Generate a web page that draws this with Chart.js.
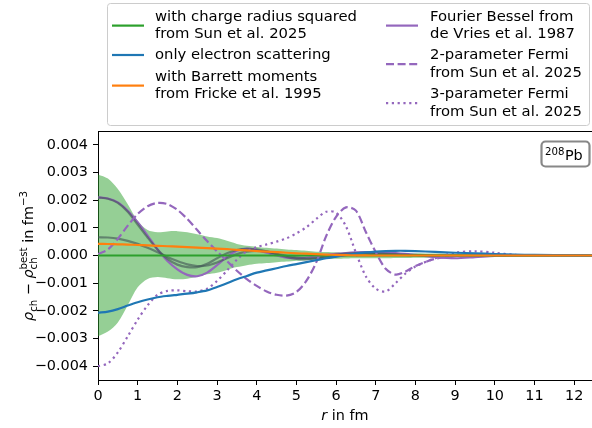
<!DOCTYPE html>
<html>
<head>
<meta charset="utf-8">
<script src="https://cdn.jsdelivr.net/npm/chart.js@4.4.1/dist/chart.umd.min.js"></script>
<style>
  html, body { margin: 0; padding: 0; background: #fff; }
  canvas { display: block; }
</style>
</head>
<body>
<canvas id="myChart" width="592" height="428"></canvas>
<script>
// radial grid in fm
const r = [0, 0.25, 0.5, 0.75, 1, 1.25, 1.5, 1.75, 2, 2.25, 2.5, 2.75, 3, 3.25, 3.5, 3.75,
  4, 4.25, 4.5, 4.75, 5, 5.25, 5.5, 5.75, 6, 6.25, 6.5, 6.75, 7, 7.25, 7.5, 7.75, 8,
  8.5, 9, 9.5, 10, 10.5, 11, 12, 12.45];

// difference to best density, fm^-3
const chargeR2R = [0, 12.45];
const chargeR2 = [0, 0];

const bandUpper = [0.00293, 0.00278, 0.00240, 0.00185, 0.00125, 0.00092, 0.00084, 0.00087, 0.00088, 0.00084,
  0.00077, 0.00069, 0.00063, 0.00053, 0.00042, 0.00035, 0.00031, 0.00028, 0.00025, 0.00022,
  0.00020, 0.00017, 0.00014, 0.00013, 0.00012, 0.00011, 0.00010, 0.00010, 0.00010, 0.00010,
  0.00009, 0.00009, 0.00008, 0.00007, 0.00005, 0.00004, 0.00003, 0.00002, 0.00001, 0.000005, 0.000003];
const bandLower = [-0.00292, -0.00275, -0.00242, -0.00180, -0.00115, -0.00085, -0.00078, -0.00082, -0.00086, -0.00084,
  -0.00077, -0.00068, -0.00062, -0.00052, -0.00042, -0.00035, -0.00030, -0.00027, -0.00024, -0.00022,
  -0.00019, -0.00017, -0.00014, -0.00013, -0.00012, -0.00011, -0.00010, -0.00010, -0.00010, -0.00010,
  -0.00009, -0.00009, -0.00008, -0.00007, -0.00005, -0.00004, -0.00003, -0.00002, -0.00001, -0.000005, -0.000003];

const electronOnly = [-0.00207, -0.00203, -0.00194, -0.00181, -0.00169, -0.00159, -0.00151, -0.00146, -0.00142, -0.00138,
  -0.00133, -0.00126, -0.00114, -0.00100, -0.00086, -0.00074, -0.00062, -0.00054, -0.00046, -0.00038,
  -0.00031, -0.00024, -0.00017, -0.00010, -0.00004, 0.00002, 0.00007, 0.00011, 0.00014, 0.00016,
  0.00017, 0.00017, 0.00016, 0.00013, 0.00010, 0.00008, 0.00005, 0.00003, 0.00002, 0.000005, 0];

const barrett = [0.00042, 0.000415, 0.000405, 0.000395, 0.00038, 0.000365, 0.00035, 0.000335, 0.00032, 0.0003,
  0.000285, 0.00027, 0.00025, 0.00023, 0.000205, 0.000185, 0.00016, 0.00014, 0.00012, 0.0001,
  0.00008, 0.000065, 0.00005, 0.000035, 0.00002, 0.000012, 0.000006, 0.000002, 0, 0,
  0, 0, 0, 0, 0, 0, 0, 0, 0, 0, 0];

const fourierBessel = [0.00210, 0.00206, 0.00192, 0.00162, 0.00120, 0.00072, 0.00022, -0.00020, -0.00050, -0.00070,
  -0.00075, -0.00062, -0.00035, -0.00005, 0.00017, 0.00025, 0.00020, 0.00010, 0, -0.00008,
  -0.00010, -0.00008, -0.00003, 0.00002, 0.00006, 0.00009, 0.00011, 0.00012, 0.00012, 0.00011,
  0.00009, 0.00006, 0.00002, -0.00006, -0.00010, -0.00006, -0.00001, 0, 0, 0, 0];

const fitA = [0.00210, 0.00205, 0.00190, 0.00158, 0.00112, 0.00065, 0.00022, -0.00012, -0.00033, -0.00042,
  -0.00042, -0.00030, -0.00010, 0.00008, 0.00020, 0.00024, 0.00022, 0.00015, 0.00005, -0.00005,
  -0.00012, -0.00014, -0.00010, -0.00003, 0.00003, 0.00007, 0.00009, 0.00009, 0.00008, 0.00006,
  0.00004, 0.00002, 0.00001, 0, 0, 0, 0, 0, 0, 0, 0];

const fitB = [0.00066, 0.00065, 0.00061, 0.00053, 0.00042, 0.00028, 0.00012, -0.00005, -0.00020, -0.00032,
  -0.00038, -0.00036, -0.00025, -0.00010, 0.00005, 0.00014, 0.00017, 0.00014, 0.00007, -0.00001,
  -0.00007, -0.00010, -0.00010, -0.00007, -0.00003, 0.00001, 0.00004, 0.00005, 0.00005, 0.00004,
  0.00003, 0.00002, 0.00001, 0, 0, 0, 0, 0, 0, 0, 0];

const fermi2p = [0.00005, 0.00022, 0.00060, 0.00108, 0.00150, 0.00178, 0.00190, 0.00186, 0.00165, 0.00132,
  0.00092, 0.00052, 0.00015, -0.00020, -0.00055, -0.00085, -0.00110, -0.00130, -0.00142, -0.00145,
  -0.00132, -0.00092, -0.00025, 0.00070, 0.00140, 0.00174, 0.00162, 0.00085, 0.00012, -0.00048,
  -0.00069, -0.00058, -0.00038, -0.00012, -0.00002, 0, 0, 0, 0, 0, 0];

const fermi3p = [-0.00400, -0.00390, -0.00350, -0.00292, -0.00232, -0.00180, -0.00142, -0.00128, -0.00126, -0.00129,
  -0.00130, -0.00120, -0.00092, -0.00055, -0.00015, 0.00015, 0.00030, 0.00040, 0.00050, 0.00062,
  0.00080, 0.00102, 0.00132, 0.00158, 0.00155, 0.00105, 0.00010, -0.00075, -0.00120, -0.00130,
  -0.00100, -0.00065, -0.00040, -0.00010, 0.00010, 0.00015, 0.00010, 0.00002, 0, 0, 0];

const xTicks = [0, 1, 2, 3, 4, 5, 6, 7, 8, 9, 10, 11, 12];
const yTicks = [-0.004, -0.003, -0.002, -0.001, 0, 0.001, 0.002, 0.003, 0.004];

const FONT = '"DejaVu Sans", sans-serif';
const FS = 14.4;
const LFS = 14.8;

const pts = (xs, ys) => xs.map((x, i) => ({ x: x, y: ys[i] }));

const C = {
  green: '#2ca02c', blue: '#1f77b4', orange: '#ff7f0e', purple: '#9467bd',
  band: 'rgba(44,160,44,0.5)', gray: 'rgba(66,86,86,0.62)'
};

function line(data, color, order, dash) {
  return {
    data: data, borderColor: color, borderWidth: 2.2, borderDash: dash || [],
    pointRadius: 0, tension: 0.3, fill: false, order: order
  };
}

// legend, frame, axis titles and nucleus label
const extras = {
  id: 'extras',
  afterDraw(chart) {
    const ctx = chart.ctx;
    const a = chart.chartArea;
    ctx.save();

    // top spine
    ctx.strokeStyle = '#000';
    ctx.lineWidth = 1;
    ctx.beginPath();
    ctx.moveTo(a.left, a.top + 0.5);
    ctx.lineTo(a.right, a.top + 0.5);
    ctx.stroke();

    ctx.fillStyle = '#000';
    ctx.textBaseline = 'alphabetic';

    // x title
    const xr = 'r', xrest = ' in fm';
    ctx.font = 'italic ' + FS + 'px ' + FONT;
    const w1 = ctx.measureText(xr).width;
    ctx.font = FS + 'px ' + FONT;
    const w2 = ctx.measureText(xrest).width;
    let x0 = (a.left + a.right) / 2 - (w1 + w2) / 2;
    ctx.font = 'italic ' + FS + 'px ' + FONT;
    ctx.fillText(xr, x0, 420);
    ctx.font = FS + 'px ' + FONT;
    ctx.fillText(xrest, x0 + w1, 420);

    // y title, rotated
    ctx.save();
    ctx.translate(33, 256);
    ctx.rotate(-Math.PI / 2);
    const big = FS + 'px ' + FONT, ital = 'italic ' + FS + 'px ' + FONT, small = '10.2px ' + FONT;
    const parts = [
      { t: 'ρ', f: ital, dy: 0 },
      { t: 'ch', f: small, dy: 3.5 },
      { t: ' − ', f: big, dy: 0 },
      { t: 'ρ', f: ital, dy: 0 },
      { t: 'best', f: small, dy: -6.5, stack: 'ch' },
      { t: ' in fm', f: big, dy: 0 },
      { t: '−3', f: small, dy: -6.5 }
    ];
    let total = 0;
    parts.forEach(p => {
      ctx.font = p.f;
      let w = ctx.measureText(p.t).width;
      if (p.stack) w = Math.max(w, ctx.measureText(p.stack).width);
      p.w = w;
      total += w;
    });
    let px = -total / 2;
    parts.forEach(p => {
      ctx.font = p.f;
      ctx.fillText(p.t, px, p.dy);
      if (p.stack) ctx.fillText(p.stack, px, 3.5);
      px += p.w;
    });
    ctx.restore();

    // legend box
    ctx.beginPath();
    ctx.roundRect(107.5, 3.5, 482, 122, 3);
    ctx.fillStyle = 'rgba(255,255,255,0.8)';
    ctx.fill();
    ctx.strokeStyle = '#cccccc';
    ctx.lineWidth = 1;
    ctx.stroke();

    const entries = [
      { hx: 112, tx: 155, color: C.green, dash: [], lines: ['with charge radius squared', 'from Sun et al. 2025'], y: 17 },
      { hx: 112, tx: 155, color: C.blue, dash: [], lines: ['only electron scattering'], y: 55 },
      { hx: 112, tx: 155, color: C.orange, dash: [], lines: ['with Barrett moments', 'from Fricke et al. 1995'], y: 77 },
      { hx: 386, tx: 430, color: C.purple, dash: [], lines: ['Fourier Bessel from', 'de Vries et al. 1987'], y: 17 },
      { hx: 386, tx: 430, color: C.purple, dash: [8, 3.6], lines: ['2-parameter Fermi', 'from Sun et al. 2025'], y: 55.5 },
      { hx: 386, tx: 430, color: C.purple, dash: [2.2, 3.6], lines: ['3-parameter Fermi', 'from Sun et al. 2025'], y: 94.5 }
    ];
    const LH = 17.2;
    ctx.font = LFS + 'px ' + FONT;
    ctx.textBaseline = 'middle';
    entries.forEach(e => {
      const hy = e.y + (e.lines.length - 1) * LH / 2;
      ctx.strokeStyle = e.color;
      ctx.lineWidth = 2.2;
      ctx.setLineDash(e.dash);
      ctx.beginPath();
      ctx.moveTo(e.hx, hy);
      ctx.lineTo(e.hx + 32, hy);
      ctx.stroke();
      ctx.setLineDash([]);
      ctx.fillStyle = '#000';
      e.lines.forEach((t, i) => ctx.fillText(t, e.tx, e.y + i * LH));
    });

    // nucleus label
    ctx.beginPath();
    ctx.roundRect(541.5, 141.5, 48, 25, 4);
    ctx.fillStyle = '#fff';
    ctx.fill();
    ctx.strokeStyle = '#888';
    ctx.stroke();
    ctx.fillStyle = '#000';
    ctx.textBaseline = 'alphabetic';
    ctx.font = '10.2px ' + FONT;
    ctx.fillText('208', 545, 155);
    const ws = ctx.measureText('208').width;
    ctx.font = FS + 'px ' + FONT;
    ctx.fillText('Pb', 545 + ws + 0.5, 160);

    ctx.restore();
  }
};

const ctx = document.getElementById('myChart');

new Chart(ctx, {
  type: 'line',
  data: {
    datasets: [
      { data: pts(r, bandUpper), borderWidth: 0, pointRadius: 0, tension: 0.3,
        backgroundColor: C.band, fill: '+1', order: 20 },
      { data: pts(r, bandLower), borderWidth: 0, pointRadius: 0, tension: 0.3,
        fill: false, order: 21 },
      line(pts(r, fourierBessel), C.purple, 15),
      line(pts(r, fitA), C.gray, 14),
      line(pts(r, fitB), C.gray, 13),
      line(pts(r, fermi2p), C.purple, 12, [8, 3.6]),
      line(pts(r, fermi3p), C.purple, 11, [2.2, 3.6]),
      line(pts(chargeR2R, chargeR2), C.green, 10),
      line(pts(r, electronOnly), C.blue, 9),
      line(pts(r, barrett), C.orange, 8)
    ]
  },
  options: {
    responsive: false,
    animation: false,
    devicePixelRatio: 1,
    layout: { padding: { top: 131, right: 0, left: 0, bottom: 0 } },
    plugins: { legend: { display: false }, tooltip: { enabled: false } },
    scales: {
      x: {
        type: 'linear', min: 0, max: 12.45,
        afterBuildTicks: s => { s.ticks = xTicks.map(v => ({ value: v })); },
        afterFit: s => { s.height = 48; },
        grid: { drawOnChartArea: false, tickLength: 5, color: '#000', lineWidth: 1 },
        border: { display: true, color: '#000', width: 1 },
        ticks: { autoSkip: false, maxRotation: 0, color: '#000', padding: 3,
          font: { family: FONT, size: FS } }
      },
      y: {
        type: 'linear', min: -0.0045, max: 0.0045,
        afterBuildTicks: s => { s.ticks = yTicks.map(v => ({ value: v })); },
        afterFit: s => { s.width = 98; },
        grid: { drawOnChartArea: false, tickLength: 5, color: '#000', lineWidth: 1 },
        border: { display: true, color: '#000', width: 1 },
        ticks: { autoSkip: false, color: '#000', padding: 5,
          font: { family: FONT, size: FS },
          callback: v => v.toFixed(3).replace('-', '\u2212') }
      }
    }
  },
  plugins: [extras]
});
</script>
</body>
</html>
